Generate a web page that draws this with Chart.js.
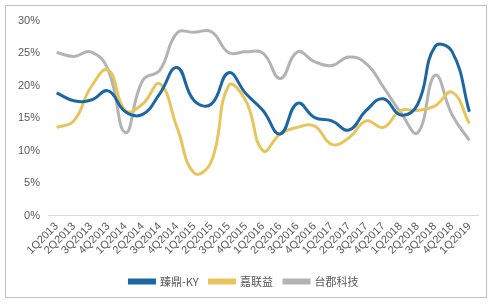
<!DOCTYPE html>
<html>
<head>
<meta charset="utf-8">
<script src="https://cdn.jsdelivr.net/npm/chart.js@4/dist/chart.umd.min.js"></script>
<style>
  body { margin: 0; background: #fff; }
  #frame {
    position: absolute; left: 5px; top: 5px;
    width: 480px; height: 291px;
    border: 1.5px solid #c0c0c0;
  }
  canvas { display: block; }
</style>
</head>
<body>
<div id="frame"><canvas id="gmChart" width="480" height="291"></canvas></div>
<script>
// Quarters on the x axis
const quarters = [
  "1Q2013", "2Q2013", "3Q2013", "4Q2013", "1Q2014", "2Q2014", "3Q2014", "4Q2014",
  "1Q2015", "2Q2015", "3Q2015", "4Q2015", "1Q2016", "2Q2016", "3Q2016", "4Q2016",
  "1Q2017", "2Q2017", "3Q2017", "4Q2017", "1Q2018", "2Q2018", "3Q2018", "4Q2018", "1Q2019"
];

// Series values (%)
const zhendingKY = [18.9, 17.7, 17.8, 19.2, 16.0, 15.6, 18.8, 22.8, 17.7, 17.2, 22.0, 18.8,
  16.2, 12.6, 17.3, 15.1, 14.6, 13.2, 16.2, 18.0, 15.5, 17.2, 26.0, 25.2, 16.0];
const jialianyi = [13.6, 14.6, 19.8, 22.4, 16.2, 17.2, 20.3, 13.6, 6.6, 8.4, 20.0, 17.7,
  10.0, 12.6, 13.6, 13.8, 11.0, 12.0, 14.6, 13.6, 16.2, 16.2, 16.9, 19.0, 14.2];
const taijun = [25.1, 24.5, 25.2, 22.4, 12.8, 20.8, 22.4, 28.1, 28.2, 28.3, 25.1, 25.2,
  25.0, 21.1, 25.2, 23.7, 23.1, 24.4, 23.4, 19.8, 15.9, 12.8, 21.6, 15.5, 11.6];

const yTicks = [0, 5, 10, 15, 20, 25, 30];

const seriesNames = ["臻鼎-KY", "嘉联益", "台郡科技"];
const seriesColors = ["#1b66a3", "#e6c65c", "#b3b3b3"];

const ctx = document.getElementById("gmChart").getContext("2d");
new Chart(ctx, {
  type: "line",
  data: {
    labels: quarters,
    datasets: [zhendingKY, jialianyi, taijun].map((d, i) => ({
      label: seriesNames[i],
      data: d,
      borderColor: seriesColors[i],
      backgroundColor: seriesColors[i],
      borderWidth: 3,
      pointRadius: 0,
      tension: 0.45,
      fill: false,
    })),
  },
  options: {
    responsive: false,
    animation: false,
    layout: { padding: { left: 4, right: 8, top: 3, bottom: 0 } },
    plugins: {
      legend: {
        position: "bottom",
        labels: {
          boxWidth: 25,
          boxHeight: 3,
          padding: 11,
          color: "#595959",
          font: { family: "'Noto Sans CJK SC', 'Liberation Sans'", size: 11 },
        },
      },
      tooltip: { enabled: false },
    },
    scales: {
      x: {
        offset: true,
        grid: { display: false, drawTicks: false },
        border: { color: "#d9d9d9", width: 1 },
        afterFit: (scale) => { scale.height += 4; },
        ticks: {
          color: "#595959",
          maxRotation: 45,
          minRotation: 45,
          autoSkip: false,
          padding: 4,
          font: { family: "'Liberation Sans', Arial", size: 11 },
        },
      },
      y: {
        min: 0,
        max: 30,
        afterBuildTicks: (axis) => { axis.ticks = yTicks.map((v) => ({ value: v })); },
        grid: { display: false, drawTicks: false },
        border: { display: false },
        ticks: {
          color: "#595959",
          padding: 8,
          font: { family: "'Liberation Sans', Arial", size: 11 },
          callback: (v) => v + "%",
        },
      },
    },
  },
});
</script>
</body>
</html>
